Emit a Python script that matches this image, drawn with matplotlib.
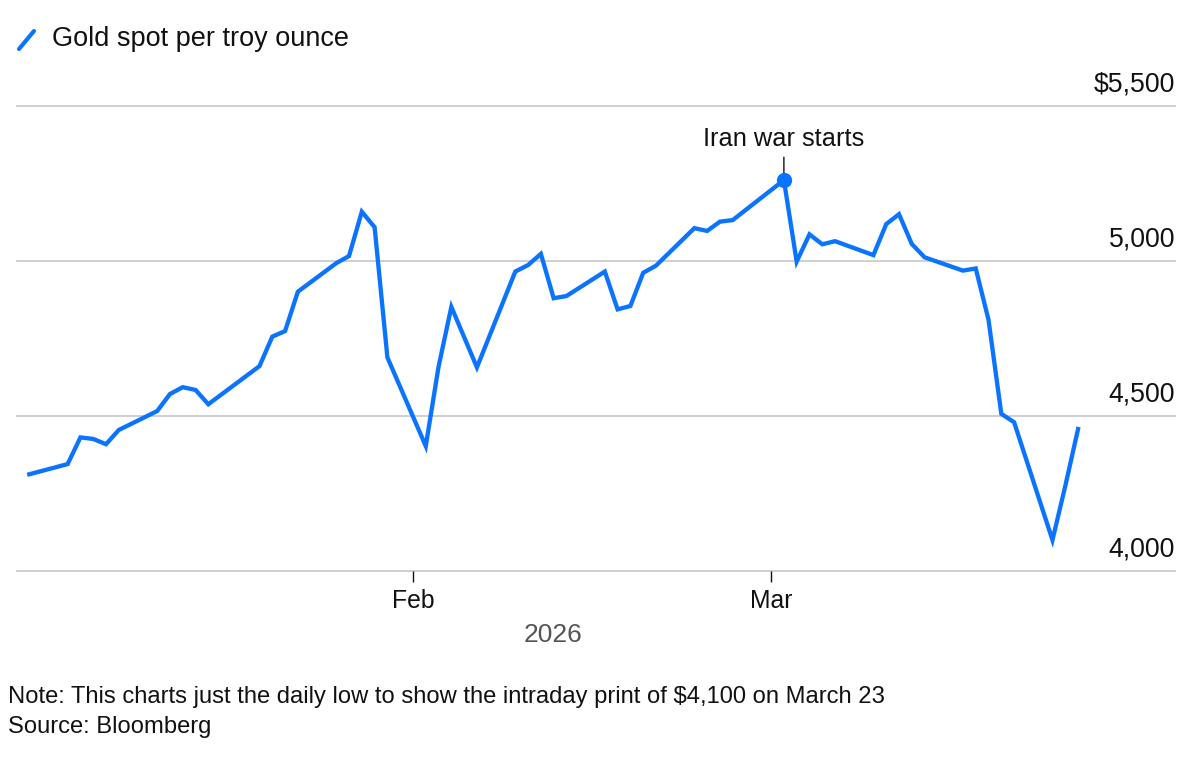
import numpy as np
import matplotlib.pyplot as plt
import matplotlib.dates as mdates
from matplotlib.lines import Line2D

plt.rcParams['font.family'] = ['Liberation Sans', 'DejaVu Sans']

# daily low, gold spot per troy ounce
dates = ['2026-01-02', '2026-01-05', '2026-01-06', '2026-01-07', '2026-01-08',
         '2026-01-09', '2026-01-12', '2026-01-13', '2026-01-14', '2026-01-15',
         '2026-01-16', '2026-01-20', '2026-01-21', '2026-01-22', '2026-01-23',
         '2026-01-26', '2026-01-27', '2026-01-28', '2026-01-29', '2026-01-30',
         '2026-02-02', '2026-02-03', '2026-02-04', '2026-02-06', '2026-02-09',
         '2026-02-10', '2026-02-11', '2026-02-12', '2026-02-13', '2026-02-16',
         '2026-02-17', '2026-02-18', '2026-02-19', '2026-02-20', '2026-02-23',
         '2026-02-24', '2026-02-25', '2026-02-26', '2026-03-02', '2026-03-03',
         '2026-03-04', '2026-03-05', '2026-03-06', '2026-03-09', '2026-03-10',
         '2026-03-11', '2026-03-12', '2026-03-13', '2026-03-16', '2026-03-17',
         '2026-03-18', '2026-03-19', '2026-03-20', '2026-03-23', '2026-03-24',
         '2026-03-25']
gold = [4311, 4344, 4430, 4425, 4408,
        4454, 4515, 4570, 4592, 4583,
        4537, 4660, 4755, 4773, 4900,
        4992, 5015, 5158, 5108, 4688,
        4402, 4658, 4851, 4656, 4965,
        4986, 5022, 4879, 4886, 4965,
        4843, 4854, 4961, 4984, 5105,
        5096, 5126, 5131, 5260, 4997,
        5085, 5053, 5063, 5018, 5118,
        5150, 5054, 5011, 4968, 4975,
        4809, 4506, 4479, 4099, 4273,
        4457]

event_date = '2026-03-02'
event_label = 'Iran war starts'

yticks = [4000, 4500, 5000, 5500]
ylabels = ['4,000', '4,500', '5,000', '$5,500']
xticks = ['2026-02-01', '2026-03-01']
xlabels = ['Feb', 'Mar']

blue = '#0b74ff'
ink = '#111111'

x = np.array(dates, dtype='datetime64[D]')
y = np.array(gold)

fig = plt.figure(figsize=(12, 7.8), dpi=100)
ax = fig.add_axes([17/1200, 1 - 570.7/780, 1158/1200, 465/780])

ax.plot(x, y, color=blue, lw=3.1, solid_joinstyle='miter', zorder=3)

# event marker + label
ei = dates.index(event_date)
ax.plot(x[ei], y[ei], 'o', color=blue, ms=10, zorder=4)
ax.annotate(event_label, xy=(x[ei], y[ei]), xytext=(0, 21), textcoords='offset points',
            ha='center', va='bottom', fontsize=18.3, color=ink,
            arrowprops=dict(arrowstyle='-', color=ink, lw=1, shrinkA=2.5, shrinkB=4.3))

left = np.datetime64('2026-02-01') - np.timedelta64(31, 'D')
ax.set_xlim(mdates.date2num(left) + 0.04,
            mdates.date2num(np.datetime64('2026-02-01')) + 59.58)
ax.set_ylim(4000, 5500)

for v, lab in zip(yticks, ylabels):
    ax.axhline(v, color='#cccccc', lw=1.3, zorder=1, clip_on=False)
    ax.annotate(lab, xy=(1, v), xycoords=('axes fraction', 'data'),
                xytext=(0, 6), textcoords='offset points',
                ha='right', va='bottom', fontsize=19.2, color=ink)

ax.set_yticks([])
ax.set_xticks(np.array(xticks, dtype='datetime64[D]'))
ax.set_xticklabels(xlabels, fontsize=17.8, color=ink)
ax.tick_params(axis='x', length=8, width=1, color=ink, pad=5)
for s in ax.spines.values():
    s.set_visible(False)

ax.text(0.463, -0.112, '2026', transform=ax.transAxes, ha='center', va='top',
        fontsize=19, color='#555555')

# legend
fig.add_artist(Line2D([19/1200, 34/1200], [1 - 49/780, 1 - 31/780],
                      color=blue, lw=3, solid_capstyle='round'))
fig.text(52/1200, 1 - 39/780, 'Gold spot per troy ounce', ha='left', va='center',
         fontsize=19.5, color=ink)

fig.text(8/1200, 1 - 697/780,
         'Note: This charts just the daily low to show the intraday print of $4,100 on March 23',
         ha='left', va='center', fontsize=17.1, color=ink)
fig.text(8/1200, 1 - 727/780, 'Source: Bloomberg', ha='left', va='center',
         fontsize=17.1, color=ink)

fig.savefig('out.png', dpi=100, facecolor='white')
